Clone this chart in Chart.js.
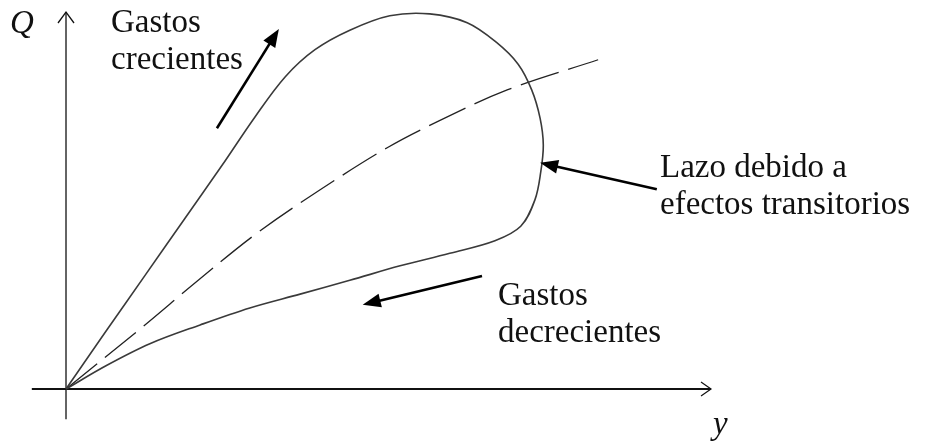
<!DOCTYPE html>
<html>
<head>
<meta charset="utf-8">
<script src="https://cdn.jsdelivr.net/npm/chart.js@4.4.1/dist/chart.umd.min.js"></script>
<style>
  html, body { margin: 0; padding: 0; background: #fff; }
  #wrap { width: 926px; height: 444px; }
</style>
</head>
<body>
<div id="wrap"><canvas id="chart" width="926" height="444"></canvas></div>
<script>
// curva de gastos con lazo (y = tirante, Q = gasto), unidades arbitrarias
const loopY = [0, 0.60, 1.22, 1.84, 2.42, 2.93, 3.40, 3.86, 4.40, 5.02, 5.64, 6.22, 6.67, 7.01, 7.22,
  7.35, 7.40, 7.36, 7.27, 7.05, 6.65, 5.95, 5.18, 4.40, 3.63, 2.85, 2.08, 1.30, 0.62, 0];
const loopQ = [0, 0.89, 1.80, 2.71, 3.56, 4.33, 4.97, 5.40, 5.71, 5.94, 5.97, 5.83, 5.52, 5.17, 4.76,
  4.31, 3.88, 3.45, 3.01, 2.59, 2.36, 2.16, 1.96, 1.73, 1.51, 1.29, 1.02, 0.72, 0.37, 0];
const steadyY = [0, 1.19, 2.05, 2.96, 3.94, 4.98, 5.75, 6.84, 8.25];
const steadyQ = [0, 0.99, 1.73, 2.48, 3.17, 3.84, 4.25, 4.76, 5.24];

// flechas: [desde, hasta] en unidades de los ejes
const arrowFrom = [[2.34, 4.15], [9.16, 3.18], [6.45, 1.80]];
const arrowTo = [[3.30, 5.73], [7.35, 3.60], [4.60, 1.34]];
const noteLines = [['Gastos', 'crecientes'], ['Lazo debido a', 'efectos transitorios'], ['Gastos', 'decrecientes']];
const axisNames = ['y', 'Q'];
const axisX = [-0.53, 10];
const axisY = [-0.48, 6];

const toPoints = (xs, ys) => xs.map((x, i) => ({ x, y: ys[i] }));

const SERIF = '"Liberation Serif", "DejaVu Serif", serif';

function arrowHead(ctx, x0, y0, x1, y1, len, half, filled) {
  const a = Math.atan2(y1 - y0, x1 - x0);
  const bx = x1 - len * Math.cos(a);
  const by = y1 - len * Math.sin(a);
  const px = -Math.sin(a) * half;
  const py = Math.cos(a) * half;
  ctx.beginPath();
  ctx.moveTo(bx + px, by + py);
  ctx.lineTo(x1, y1);
  ctx.lineTo(bx - px, by - py);
  if (filled) {
    ctx.closePath();
    ctx.fill();
  } else {
    ctx.stroke();
  }
}

const decor = {
  id: 'decor',
  beforeDatasetsDraw(chart) {
    const { ctx, scales: { x, y } } = chart;
    const x0 = x.getPixelForValue(0);
    const y0 = y.getPixelForValue(0);
    ctx.save();
    ctx.strokeStyle = '#111';
    ctx.lineCap = 'butt';

    // eje horizontal
    const xs = x.getPixelForValue(axisX[0]);
    const xe = x.getPixelForValue(axisX[1]);
    ctx.lineWidth = 2;
    ctx.beginPath();
    ctx.moveTo(xs, y0);
    ctx.lineTo(xe, y0);
    ctx.stroke();
    ctx.lineWidth = 1.2;
    arrowHead(ctx, xs, y0, xe, y0, 10, 7, false);

    // eje vertical
    const ys = y.getPixelForValue(axisY[0]);
    const ye = y.getPixelForValue(axisY[1]);
    ctx.lineWidth = 1.3;
    ctx.beginPath();
    ctx.moveTo(x0, ys);
    ctx.lineTo(x0, ye);
    ctx.stroke();
    arrowHead(ctx, x0, ys, x0, ye, 11, 8, false);
    ctx.restore();
  },
  afterDatasetsDraw(chart) {
    const { ctx, scales: { x, y } } = chart;
    ctx.save();
    ctx.strokeStyle = '#000';
    ctx.fillStyle = '#000';
    ctx.lineWidth = 2.6;
    arrowFrom.forEach((from, i) => {
      const ax = x.getPixelForValue(from[0]);
      const ay = y.getPixelForValue(from[1]);
      const bx = x.getPixelForValue(arrowTo[i][0]);
      const by = y.getPixelForValue(arrowTo[i][1]);
      const a = Math.atan2(by - ay, bx - ax);
      ctx.beginPath();
      ctx.moveTo(ax, ay);
      ctx.lineTo(bx - 12 * Math.cos(a), by - 12 * Math.sin(a));
      ctx.stroke();
      arrowHead(ctx, ax, ay, bx, by, 18, 7, true);
    });

    ctx.fillStyle = '#111';
    ctx.textAlign = 'left';
    ctx.textBaseline = 'alphabetic';
    ctx.font = `33px ${SERIF}`;
    const spots = [[111, 32], [660, 177], [498, 305]];
    noteLines.forEach((lines, i) => {
      lines.forEach((t, k) => ctx.fillText(t, spots[i][0], spots[i][1] + k * 37));
    });

    ctx.font = `italic 33px ${SERIF}`;
    ctx.fillText(axisNames[0], 713, 434);
    ctx.fillText(axisNames[1], 10, 33);
    ctx.restore();
  },
};

new Chart(document.getElementById('chart'), {
  type: 'scatter',
  data: {
    datasets: [
      {
        label: 'Lazo',
        data: toPoints(loopY, loopQ),
        showLine: true,
        tension: 0.35,
        borderColor: '#3a3a3a',
        borderWidth: 1.6,
        pointRadius: 0,
        fill: false,
      },
      {
        label: 'Permanente',
        data: toPoints(steadyY, steadyQ),
        showLine: true,
        tension: 0.35,
        borderColor: '#222',
        borderWidth: 1.3,
        borderDash: [40, 10],
        pointRadius: 0,
        fill: false,
      },
    ],
  },
  options: {
    responsive: false,
    animation: false,
    layout: { padding: 0 },
    plugins: { legend: { display: false }, tooltip: { enabled: false } },
    scales: {
      x: { type: 'linear', display: false, min: -1.0233, max: 13.3333 },
      y: { type: 'linear', display: false, min: -0.8753, max: 6.191 },
    },
  },
  plugins: [decor],
});
</script>
</body>
</html>
